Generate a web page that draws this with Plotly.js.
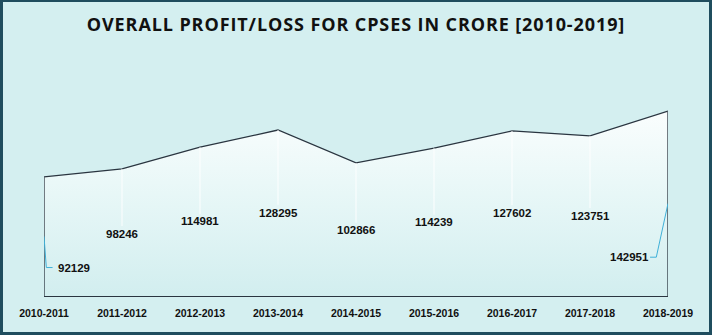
<!DOCTYPE html>
<html><head><meta charset="utf-8">
<script src="https://cdn.plot.ly/plotly-3.0.1.min.js"></script>
<style>
html,body{margin:0;padding:0;background:#d4eff0;}
#wrap{position:relative;width:712px;height:335px;}
#plot{position:absolute;left:0;top:0;width:712px;height:335px;}
#frame{position:absolute;left:0;top:0;width:712px;height:335px;box-sizing:border-box;border:3px solid #1f4d5e;border-top-width:2px;pointer-events:none;}
#plot .gtitle{letter-spacing:0.9px;}
</style></head>
<body><div id="wrap"><div id="plot"></div><div id="frame"></div></div>
<script>
const years = ['2010-2011','2011-2012','2012-2013','2013-2014','2014-2015','2015-2016','2016-2017','2017-2018','2018-2019'];
const profit = [92129, 98246, 114981, 128295, 102866, 114239, 127602, 123751, 142951];
const labelText = ['92129','98246','114981','128295','102866','114239','127602','123751','142951'];
// label y positions (data units)
const labelY = [22000, 48000, 58000, 64000, 51000, 57000, 64000, 62000, 30000];

const yTop = 160000;
const traces = [
  {x: years, y: profit, type:'scatter', mode:'lines', fill:'tozeroy',
   line:{color:'#2a3540', width:1.3},
   fillgradient:{type:'vertical', start:0, stop:yTop,
     colorscale:[[0,'#d2eeef'],[0.55,'#eaf8f8'],[1,'#ffffff']]},
   hoverinfo:'skip'},
  {x: years, y: profit, type:'scatter', mode:'markers', marker:{size:0.1,color:'rgba(0,0,0,0)'},
   error_y:{type:'data', symmetric:false, array:profit.map(()=>0), arrayminus:profit.map(v=>v*0.45),
     color:'rgba(255,255,255,0.9)', thickness:1, width:0}, hoverinfo:'skip'}
];

const annotations = years.map((c,i)=>({x:c, y:labelY[i], text:'<b>'+labelText[i]+'</b>', showarrow:false,
  font:{family:'Liberation Sans, Arial, sans-serif', size:11.5, color:'#111'}}));
annotations[0].x = 0.38;
annotations[8].x = 7.5;

const n = years.length - 1;
const shapes = [
  {type:'line', xref:'x', yref:'y', x0:0, x1:0, y0:0, y1:profit[0], line:{color:'#2a3540', width:1.3}},
  {type:'line', xref:'x', yref:'y', x0:n, x1:n, y0:0, y1:profit[n], line:{color:'#2a3540', width:1.3}},
  {type:'path', xref:'x', yref:'y', path:`M 0 ${profit[0]*0.5} L 0.03 ${labelY[0]} L 0.11 ${labelY[0]}`, line:{color:'#3fb0d8', width:1}},
  {type:'path', xref:'x', yref:'y', path:`M ${n} ${profit[n]*0.5} L ${n-0.15} ${labelY[8]} L ${n-0.23} ${labelY[8]}`, line:{color:'#3fb0d8', width:1}}
];

const layout = {
  width:712, height:335,
  margin:{l:44, r:44, t:89, b:39},
  paper_bgcolor:'#d4eff0', plot_bgcolor:'rgba(0,0,0,0)',
  showlegend:false,
  title:{text:'<b>OVERALL PROFIT/LOSS FOR CPSES IN CRORE [2010-2019]</b>', x:0.5, xanchor:'center', y:0.925, yanchor:'middle',
    font:{family:'Open Sans, Liberation Sans, sans-serif', size:18, color:'#111'}},
  xaxis:{type:'category', range:[0, n], showgrid:false, zeroline:false, showline:true, linecolor:'#2a3540', linewidth:1.3,
    ticks:'outside', ticklen:7, tickcolor:'rgba(0,0,0,0)',
    tickfont:{family:'Liberation Sans, Arial, sans-serif', size:10.5, color:'#111', weight:'bold'}, fixedrange:true},
  yaxis:{range:[0, yTop], visible:false, fixedrange:true},
  annotations: annotations, shapes: shapes
};
Plotly.newPlot('plot', traces, layout, {staticPlot:true, displayModeBar:false});
</script></body></html>
